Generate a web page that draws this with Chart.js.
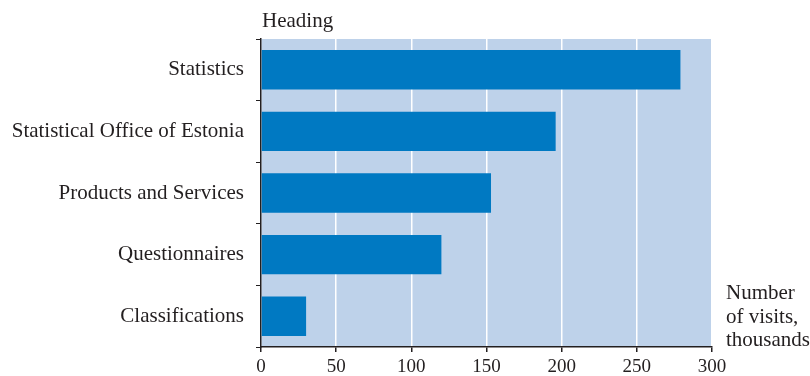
<!DOCTYPE html>
<html>
<head>
<meta charset="utf-8">
<script src="https://cdn.jsdelivr.net/npm/chart.js@4/dist/chart.umd.min.js"></script>
<style>
  body { margin: 0; background: #fff; }
  #wrap { position: relative; width: 810px; height: 376px; }
  .note { position: absolute; font-family: "Liberation Serif", serif; font-size: 21px; color: #231f20; line-height: 23.5px; }
</style>
</head>
<body>
<div id="wrap">
  <canvas id="myChart" width="810" height="376"></canvas>
  <div class="note" style="left:262px; top:9px;">Heading</div>
  <div class="note" style="left:726px; top:281px;">Number<br>of visits,<br>thousands</div>
</div>
<script>
const headings = ["Statistics", "Statistical Office of Estonia", "Products and Services", "Questionnaires", "Classifications"];
const visits = [279, 196, 153, 120, 30];
const xTicks = [0, 50, 100, 150, 200, 250, 300];

const plotBg = {
  id: "plotBg",
  beforeDraw: (chart) => {
    const a = chart.chartArea;
    const ctx = chart.ctx;
    ctx.save();
    ctx.fillStyle = "#bed2ea";
    ctx.fillRect(a.left, a.top, a.right - a.left, a.bottom - a.top);
    ctx.restore();
  },
};

const ctx = document.getElementById("myChart");
const myChart = new Chart(ctx, {
  type: "bar",
  data: {
    labels: headings,
    datasets: [
      {
        data: visits,
        backgroundColor: "#0079c2",
        categoryPercentage: 0.64,
        barPercentage: 1,
      },
    ],
  },
  options: {
    indexAxis: "y",
    responsive: false,
    animation: false,
    layout: { padding: { top: 39, right: 98, left: 0, bottom: 0 } },
    plugins: { legend: { display: false }, tooltip: { enabled: false } },
    scales: {
      x: {
        min: 0,
        max: 300,
        afterBuildTicks: (axis) => {
          axis.ticks = xTicks.map((v) => ({ value: v }));
        },
        afterFit: (axis) => {
          axis.height = 29;
        },
        grid: { color: "#ffffff", lineWidth: 1.5, tickColor: "#231f20", tickLength: 5 },
        border: { color: "#231f20", width: 1.5 },
        ticks: {
          color: "#231f20",
          padding: 4,
          maxRotation: 0,
          font: { family: "Liberation Serif", size: 19 },
        },
      },
      y: {
        afterFit: (axis) => {
          axis.width = 261;
        },
        grid: { drawOnChartArea: false, tickColor: "#231f20", tickLength: 5, offset: true },
        border: { color: "#231f20", width: 1.5 },
        ticks: {
          color: "#231f20",
          padding: 12,
          font: { family: "Liberation Serif", size: 21 },
        },
      },
    },
  },
  plugins: [plotBg],
});
</script>
</body>
</html>
